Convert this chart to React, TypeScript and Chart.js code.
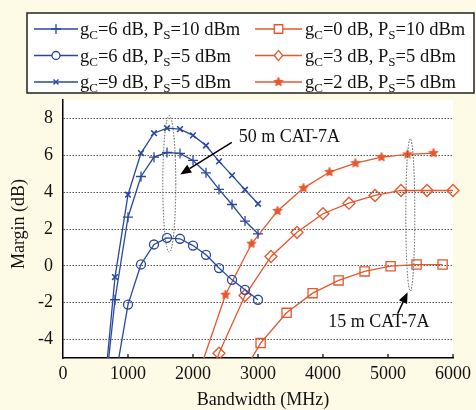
import React, { useEffect, useRef } from 'react';
import { Chart, registerables } from 'chart.js';
Chart.register(...registerables);

// ---- data ----
const xTicks = [0, 1000, 2000, 3000, 4000, 5000, 6000];
const yTicks = [-4, -2, 0, 2, 4, 6, 8];

const bwBlue = [600, 800, 1000, 1200, 1400, 1600, 1800, 2000, 2200, 2400, 2600, 2800, 3000];
const marginG6P10 = [-8.4, -1.84, 2.64, 4.85, 5.9, 6.15, 6.1, 5.72, 5.05, 4.15, 3.33, 2.43, 1.74];
const marginG9P5 = [-8.1, -0.61, 3.86, 6.12, 7.2, 7.47, 7.42, 7.08, 6.53, 5.67, 4.91, 4.13, 3.37];
const bwCircle = [800, 1000, 1200, 1400, 1600, 1800, 2000, 2200, 2400, 2600, 2800, 3000];
const marginG6P5 = [-6.2, -2.1, 0.08, 1.16, 1.52, 1.47, 1.1, 0.6, -0.12, -0.76, -1.3, -1.84];

const bwSquare = [2640, 3040, 3440, 3840, 4240, 4640, 5040, 5440, 5840];
const marginG0P10 = [-6.6, -4.19, -2.55, -1.48, -0.79, -0.3, -0.02, 0.07, 0.07];
const bwDiamond = [2000, 2400, 2800, 3200, 3600, 4000, 4400, 4800, 5200, 5600, 6000];
const marginG3P5 = [-9, -4.74, -1.61, 0.51, 1.82, 2.83, 3.4, 3.82, 4.09, 4.09, 4.09];
const bwStar = [2100, 2500, 2900, 3300, 3700, 4100, 4500, 4900, 5300, 5700];
const marginG2P5 = [-5.7, -1.57, 1.2, 2.98, 4.22, 5.09, 5.57, 5.9, 6.05, 6.12];

const legendGC = ['6', '6', '9', '0', '3', '2'];
const legendPS = ['10', '5', '5', '10', '5', '5'];

const BLUE = '#2848a0';
const ORANGE = '#e8562c';
const SERIF = '"Liberation Serif", "Times New Roman", serif';
const BG = '#fdfbe6';

function makeStar(color: string, r: number) {
  const s = Math.ceil(r * 2 + 4);
  const c = document.createElement('canvas');
  c.width = s; c.height = s;
  const g = c.getContext('2d')!;
  g.beginPath();
  for (let i = 0; i < 10; i++) {
    const a = -Math.PI / 2 + (i * Math.PI) / 5;
    const rr = i % 2 === 0 ? r : r * 0.45;
    g.lineTo(s / 2 + rr * Math.cos(a), s / 2 + rr * Math.sin(a));
  }
  g.closePath();
  g.fillStyle = color;
  g.fill();
  g.lineWidth = 1;
  g.strokeStyle = color;
  g.stroke();
  return c;
}

function drawMarker(ctx: CanvasRenderingContext2D, style: any, x: number, y: number, r: number, color: string) {
  ctx.save();
  ctx.strokeStyle = color;
  ctx.lineWidth = 1.3;
  ctx.beginPath();
  if (style === 'cross') {
    ctx.moveTo(x - r, y); ctx.lineTo(x + r, y); ctx.moveTo(x, y - r); ctx.lineTo(x, y + r);
    ctx.stroke();
  } else if (style === 'crossRot') {
    const d = r * Math.SQRT1_2;
    ctx.moveTo(x - d, y - d); ctx.lineTo(x + d, y + d); ctx.moveTo(x - d, y + d); ctx.lineTo(x + d, y - d);
    ctx.stroke();
  } else if (style === 'circle') {
    ctx.arc(x, y, r, 0, Math.PI * 2);
    ctx.fillStyle = 'white'; ctx.fill(); ctx.stroke();
  } else if (style === 'rect') {
    const d = r * Math.SQRT1_2;
    ctx.rect(x - d, y - d, 2 * d, 2 * d);
    ctx.fillStyle = 'white'; ctx.fill(); ctx.stroke();
  } else if (style === 'rectRot') {
    const d = r * Math.SQRT1_2;
    ctx.moveTo(x - d, y); ctx.lineTo(x, y + d * 1.2); ctx.lineTo(x + d, y); ctx.lineTo(x, y - d * 1.2); ctx.closePath();
    ctx.fillStyle = 'white'; ctx.fill(); ctx.stroke();
  } else if (style instanceof HTMLCanvasElement) {
    ctx.drawImage(style, x - style.width / 2, y - style.height / 2);
  }
  ctx.restore();
}

function drawSubText(ctx: CanvasRenderingContext2D, x: number, y: number, gc: string, ps: string, size: number) {
  const parts: [string, boolean][] = [['g', false], ['C', true], ['=' + gc + ' dB, P', false], ['S', true], ['=' + ps + ' dBm', false]];
  let cx = x;
  ctx.save();
  ctx.fillStyle = '#111';
  ctx.textAlign = 'left';
  ctx.textBaseline = 'alphabetic';
  for (const [t, sub] of parts) {
    ctx.font = `${sub ? Math.round(size * 0.68) : size}px ${SERIF}`;
    ctx.fillText(t, cx, sub ? y + 4 : y);
    cx += ctx.measureText(t).width;
  }
  ctx.restore();
}

export default function App() {
  const ref = useRef<HTMLCanvasElement>(null);
  useEffect(() => {
    document.body.style.margin = '0';
    document.body.style.background = BG;
    const star = makeStar(ORANGE, 4.7);
    const clip = { left: 0, top: 0, right: 8, bottom: 0 };
    const mk = (label: string, xs: number[], ys: number[], color: string, style: any, radius: number, pbw = 1.3) => ({
      label,
      data: xs.map((x, i) => ({ x, y: ys[i] })),
      borderColor: color,
      backgroundColor: color,
      borderWidth: 1.3,
      pointStyle: style,
      pointRadius: radius,
      pointBorderColor: color,
      pointBackgroundColor: 'rgba(255,255,255,0)',
      pointBorderWidth: pbw,
      tension: 0,
      fill: false,
      clip,
    });
    const datasets = [
      mk('gC=6 dB, PS=10 dBm', bwBlue, marginG6P10, BLUE, 'cross', 5),
      mk('gC=6 dB, PS=5 dBm', bwCircle, marginG6P5, BLUE, 'circle', 4.5),
      mk('gC=9 dB, PS=5 dBm', bwBlue, marginG9P5, BLUE, 'crossRot', 4, 1.6),
      mk('gC=0 dB, PS=10 dBm', bwSquare, marginG0P10, ORANGE, 'rect', 6.5),
      mk('gC=3 dB, PS=5 dBm', bwDiamond, marginG3P5, ORANGE, 'rectRot', 6),
      mk('gC=2 dB, PS=5 dBm', bwStar, marginG2P5, ORANGE, star, 4.7),
    ];
    const legendStyles: any[] = ['cross', 'circle', 'crossRot', 'rect', 'rectRot', star];
    const legendColors = [BLUE, BLUE, BLUE, ORANGE, ORANGE, ORANGE];
    const legendR = [5, 4, 3.5, 6, 6, 5];

    const deco = {
      id: 'deco',
      beforeDraw(chart: any) {
        const { ctx, chartArea: a } = chart;
        ctx.save();
        ctx.fillStyle = BG;
        ctx.fillRect(0, 0, chart.width, chart.height);
        ctx.fillStyle = '#ffffff';
        ctx.fillRect(a.left, a.top, a.right - a.left, a.bottom - a.top);
        ctx.restore();
      },
      afterDatasetsDraw(chart: any) {
        const { ctx, chartArea: a, scales } = chart;
        const xs = scales.x, ys = scales.y;
        ctx.save();
        // x tick marks pointing inward
        ctx.strokeStyle = '#000';
        ctx.lineWidth = 1.2;
        for (const t of xTicks) {
          if (t === 0) continue;
          const px = xs.getPixelForValue(t);
          ctx.beginPath(); ctx.moveTo(px, a.bottom); ctx.lineTo(px, a.bottom - 4); ctx.stroke();
        }
        // dotted ellipses
        ctx.strokeStyle = '#555';
        ctx.lineWidth = 1;
        ctx.setLineDash([1.5, 1.5]);
        const e1x = xs.getPixelForValue(1635), e1t = ys.getPixelForValue(8.15), e1b = ys.getPixelForValue(0.74);
        ctx.beginPath(); ctx.ellipse(e1x, (e1t + e1b) / 2, 6.5, (e1b - e1t) / 2, 0, 0, Math.PI * 2); ctx.stroke();
        const e2x = xs.getPixelForValue(5343), e2t = ys.getPixelForValue(6.9), e2b = ys.getPixelForValue(-1.37);
        ctx.beginPath(); ctx.ellipse(e2x, (e2t + e2b) / 2, 4.5, (e2b - e2t) / 2, 0, 0, Math.PI * 2); ctx.stroke();
        ctx.setLineDash([]);
        // arrows
        const arrow = (x0: number, y0: number, x1: number, y1: number) => {
          const p0x = xs.getPixelForValue(x0), p0y = ys.getPixelForValue(y0);
          const p1x = xs.getPixelForValue(x1), p1y = ys.getPixelForValue(y1);
          const ang = Math.atan2(p1y - p0y, p1x - p0x);
          const L = 11, W = 4.5;
          const bx = p1x - L * Math.cos(ang), by = p1y - L * Math.sin(ang);
          ctx.strokeStyle = '#000'; ctx.fillStyle = '#000'; ctx.lineWidth = 1.5;
          ctx.beginPath(); ctx.moveTo(p0x, p0y); ctx.lineTo(bx, by); ctx.stroke();
          ctx.beginPath();
          ctx.moveTo(p1x, p1y);
          ctx.lineTo(bx + W * Math.sin(ang), by - W * Math.cos(ang));
          ctx.lineTo(bx - W * Math.sin(ang), by + W * Math.cos(ang));
          ctx.closePath(); ctx.fill();
        };
        arrow(2597, 6.7, 1803, 4.96);
        arrow(5149, -2.59, 5302, -1.43);
        // annotation texts
        ctx.fillStyle = '#111';
        ctx.font = `18px ${SERIF}`;
        ctx.textAlign = 'left';
        ctx.textBaseline = 'middle';
        ctx.fillText('50 m CAT-7A', xs.getPixelForValue(2704), ys.getPixelForValue(6.97));
        ctx.fillText('15 m CAT-7A', xs.getPixelForValue(4080), ys.getPixelForValue(-3.07));
        ctx.restore();
      },
      afterDraw(chart: any) {
        const { ctx } = chart;
        ctx.save();
        // axis titles
        ctx.fillStyle = '#111';
        ctx.font = `18px ${SERIF}`;
        ctx.textAlign = 'center';
        ctx.textBaseline = 'middle';
        ctx.fillText('Bandwidth (MHz)', 263, 400);
        ctx.translate(19, 224);
        ctx.rotate(-Math.PI / 2);
        ctx.fillText('Margin (dB)', 0, 0);
        ctx.restore();
        // legend
        ctx.save();
        ctx.fillStyle = '#fff';
        ctx.fillRect(27, 13, 447, 80);
        ctx.strokeStyle = '#222';
        ctx.lineWidth = 1.5;
        ctx.strokeRect(27, 13, 447, 80);
        const rows = [29, 55.5, 82];
        for (let i = 0; i < 6; i++) {
          const col = i < 3 ? 0 : 1;
          const y = rows[i % 3];
          const l0 = col === 0 ? 34 : 255, l1 = col === 0 ? 78 : 302, tx = col === 0 ? 80 : 305;
          ctx.strokeStyle = legendColors[i];
          ctx.lineWidth = 1.3;
          ctx.beginPath(); ctx.moveTo(l0, y); ctx.lineTo(l1, y); ctx.stroke();
          drawMarker(ctx, legendStyles[i], (l0 + l1) / 2, y, legendR[i], legendColors[i]);
          drawSubText(ctx, tx, y + 6, legendGC[i], legendPS[i], 18.5);
        }
        ctx.restore();
      },
    };

    const chart = new Chart(ref.current!, {
      type: 'line',
      data: { datasets: datasets as any },
      options: {
        animation: false,
        responsive: false,
        maintainAspectRatio: false,
        layout: { padding: { top: 100, right: 20, left: 0, bottom: 0 } },
        plugins: { legend: { display: false }, tooltip: { enabled: false } },
        scales: {
          x: {
            type: 'linear',
            min: 0,
            max: 6000,
            afterFit: (s: any) => { s.height = 52; },
            afterBuildTicks: (s: any) => { s.ticks = xTicks.map((v) => ({ value: v })); },
            grid: { display: false, drawTicks: false },
            border: { display: true, color: '#000', width: 1.5 },
            ticks: { color: '#111', font: { family: SERIF, size: 18 }, padding: 5, maxRotation: 0, callback: (v: any) => String(v) },
          },
          y: {
            type: 'linear',
            min: -5,
            max: 9,
            afterFit: (s: any) => { s.width = 63; },
            afterBuildTicks: (s: any) => { s.ticks = yTicks.map((v) => ({ value: v })); },
            grid: { display: true, drawTicks: false, color: '#555', lineWidth: 1 },
            border: { display: true, color: '#000', width: 1.5, dash: [1.5, 1.5] },
            ticks: { color: '#111', font: { family: SERIF, size: 18 }, padding: 10, callback: (v: any) => String(v) },
          },
        },
      } as any,
      plugins: [deco],
    });
    return () => chart.destroy();
  }, []);
  return <canvas ref={ref} width={476} height={410} style={{ display: 'block', width: 476, height: 410 }} />;
}
